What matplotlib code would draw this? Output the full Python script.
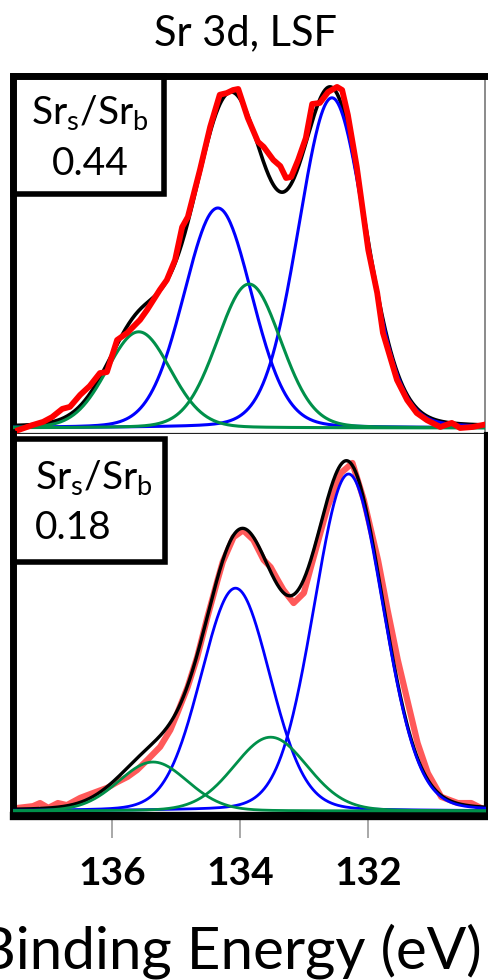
import matplotlib.pyplot as plt
from matplotlib.patches import Rectangle
import numpy as np

plt.rcParams['font.family'] = ['Lato', 'DejaVu Sans']

# measured Sr 3d spectra, binding energy (eV) and normalised intensity
lsf1_be = [137.47, 137.24, 137.08, 136.94, 136.78, 136.66, 136.50, 136.35, 136.19, 136.08,
           135.92, 135.76, 135.56, 135.45, 135.25, 135.14, 135.01, 134.90, 134.81, 134.62,
           134.46, 134.31, 134.20, 134.10, 134.02, 133.87, 133.71, 133.62, 133.47, 133.36,
           133.27, 133.19, 133.08, 132.96, 132.86, 132.74, 132.61, 132.47, 132.39, 132.30,
           132.16, 131.98, 131.84, 131.75, 131.53, 131.37, 131.22, 131.06, 130.85, 130.67,
           130.54, 130.34, 130.18]
lsf1_int = [-0.006, 0.009, 0.018, 0.032, 0.056, 0.062, 0.097, 0.123, 0.161, 0.164,
            0.258, 0.279, 0.317, 0.346, 0.405, 0.434, 0.493, 0.589, 0.619, 0.757,
            0.883, 0.977, 0.982, 0.991, 0.994, 0.909, 0.839, 0.824, 0.786, 0.768,
            0.733, 0.736, 0.786, 0.850, 0.950, 0.953, 0.985, 1.000, 0.991, 0.918,
            0.765, 0.522, 0.396, 0.279, 0.141, 0.082, 0.044, 0.023, 0.003, 0.015,
            0.000, 0.003, 0.009]

lsf2_be = [137.47, 137.24, 137.13, 137.00, 136.85, 136.71, 136.50, 136.30, 136.08, 135.92,
           135.76, 135.61, 135.45, 135.25, 135.09, 134.98, 134.82, 134.67, 134.51, 134.35,
           134.27, 134.10, 133.95, 133.79, 133.63, 133.52, 133.41, 133.32, 133.16, 133.00,
           132.89, 132.63, 132.42, 132.24, 132.06, 131.84, 131.69, 131.53, 131.37, 131.22,
           131.06, 130.85, 130.59, 130.38, 130.23, 130.15]
lsf2_int = [0.009, 0.014, 0.023, 0.009, 0.023, 0.017, 0.038, 0.052, 0.067, 0.084,
            0.099, 0.119, 0.148, 0.186, 0.235, 0.284, 0.359, 0.446, 0.562, 0.670,
            0.722, 0.794, 0.814, 0.786, 0.728, 0.707, 0.670, 0.641, 0.603, 0.632,
            0.707, 0.881, 0.980, 1.009, 0.901, 0.728, 0.583, 0.438, 0.313, 0.197,
            0.110, 0.041, 0.023, 0.023, 0.009, 0.003]

# fit components: bulk 3d5/2, bulk 3d3/2, surface 3d5/2, surface 3d3/2
lsf1_pos = [132.55, 134.34, 133.85, 135.58]
lsf1_amp = [0.968, 0.645, 0.422, 0.282]
lsf1_fwhm = [1.24, 1.26, 1.18, 1.18]
lsf2_pos = [132.30, 134.07, 133.52, 135.36]
lsf2_amp = [0.977, 0.646, 0.214, 0.142]
lsf2_fwhm = [1.28, 1.28, 1.36, 1.28]
peak_colors = ['#0000ff', '#0000ff', '#00904a', '#00904a']
ratios = ['0.44', '0.18']

W, H = 489, 980


def gl(x, c, h, w, eta=0.1):
    u = (x - c) / w
    return h * (eta / (1 + 4 * u**2) + (1 - eta) * np.exp(-4 * np.log(2) * u**2))


def fx(px):
    return px / W


def fy(py):
    return 1 - py / H


fig = plt.figure(figsize=(W / 100, H / 100), dpi=100)
ax1 = fig.add_axes([fx(13.5), fy(434), fx(485) - fx(13.5), fy(76) - fy(434)])
ax2 = fig.add_axes([fx(13.5), fy(816), fx(486) - fx(13.5), fy(434) - fy(816)])

be = np.linspace(137.6, 130.1, 600)

# top panel
comps = [gl(be, c, h, w) for c, h, w in zip(lsf1_pos, lsf1_amp, lsf1_fwhm)]
ax1.plot(be, np.sum(comps, axis=0), color='black', lw=2.6, zorder=2)
for y, col in zip(comps, peak_colors):
    ax1.plot(be, y, color=col, lw=2.2, zorder=3)
ax1.plot(lsf1_be, lsf1_int, color='#ff0000', lw=4.2, zorder=4)
ax1.set_ylim(-0.0176, 1.032)

# bottom panel
comps = [gl(be, c, h, w) for c, h, w in zip(lsf2_pos, lsf2_amp, lsf2_fwhm)]
ax2.plot(lsf2_be, lsf2_int, color='#ff3030', lw=4.5, alpha=0.8, zorder=2)
ax2.plot(be, np.sum(comps, axis=0), color='black', lw=2.4, zorder=3)
for y, col in zip(comps, peak_colors):
    ax2.plot(be, y, color=col, lw=2.0, zorder=4)
ax2.set_ylim(-0.0145, 1.093)

for ax in (ax1, ax2):
    ax.set_xlim(137.545, 130.149)
    ax.set_yticks([])
    ax.spines['left'].set_linewidth(5)

ax1.spines['right'].set_linewidth(1.2)
ax1.spines['right'].set_color('#777777')
ax1.spines['top'].set_linewidth(5)
ax1.spines['bottom'].set_linewidth(1.6)
ax1.spines['bottom'].set_color('#222222')
ax1.set_xticks([136, 134, 132])
ax1.tick_params(axis='x', direction='out', length=12, width=1.2, color='#555555',
                labelbottom=False)
ax2.spines['top'].set_visible(False)
ax2.spines['bottom'].set_linewidth(6)
ax2.spines['right'].set_linewidth(3)
ax2.set_xticks([136, 134, 132])
ax2.set_xticklabels(['136', '134', '132'], fontsize=28, fontweight='bold')
ax2.tick_params(axis='x', direction='out', length=16, width=1.2, color='#999999', pad=13)

# ratio boxes
fig.add_artist(Rectangle((fx(13.5), fy(194)), fx(164) - fx(13.5), fy(76) - fy(194),
                         transform=fig.transFigure, fill=False, lw=4, ec='black'))
fig.add_artist(Rectangle((fx(13.5), fy(562)), fx(165) - fx(13.5), fy(439) - fy(562),
                         transform=fig.transFigure, fill=False, lw=4, ec='black'))
lab = r'Sr$_\mathregular{s}$/Sr$_\mathregular{b}$'
fig.text(fx(90), fy(125), lab, fontsize=28, ha='center', va='baseline')
fig.text(fx(90), fy(175), ratios[0], fontsize=28, ha='center', va='baseline')
fig.text(fx(35), fy(490), lab, fontsize=28, ha='left', va='baseline')
fig.text(fx(35), fy(539), ratios[1], fontsize=28, ha='left', va='baseline')

fig.text(fx(245), fy(45), 'Sr 3d, LSF', fontsize=30, ha='center', va='baseline')
fig.text(fx(482), fy(968), 'Binding Energy (eV)', fontsize=42, ha='right', va='baseline')

fig.savefig('out.png', dpi=100)
